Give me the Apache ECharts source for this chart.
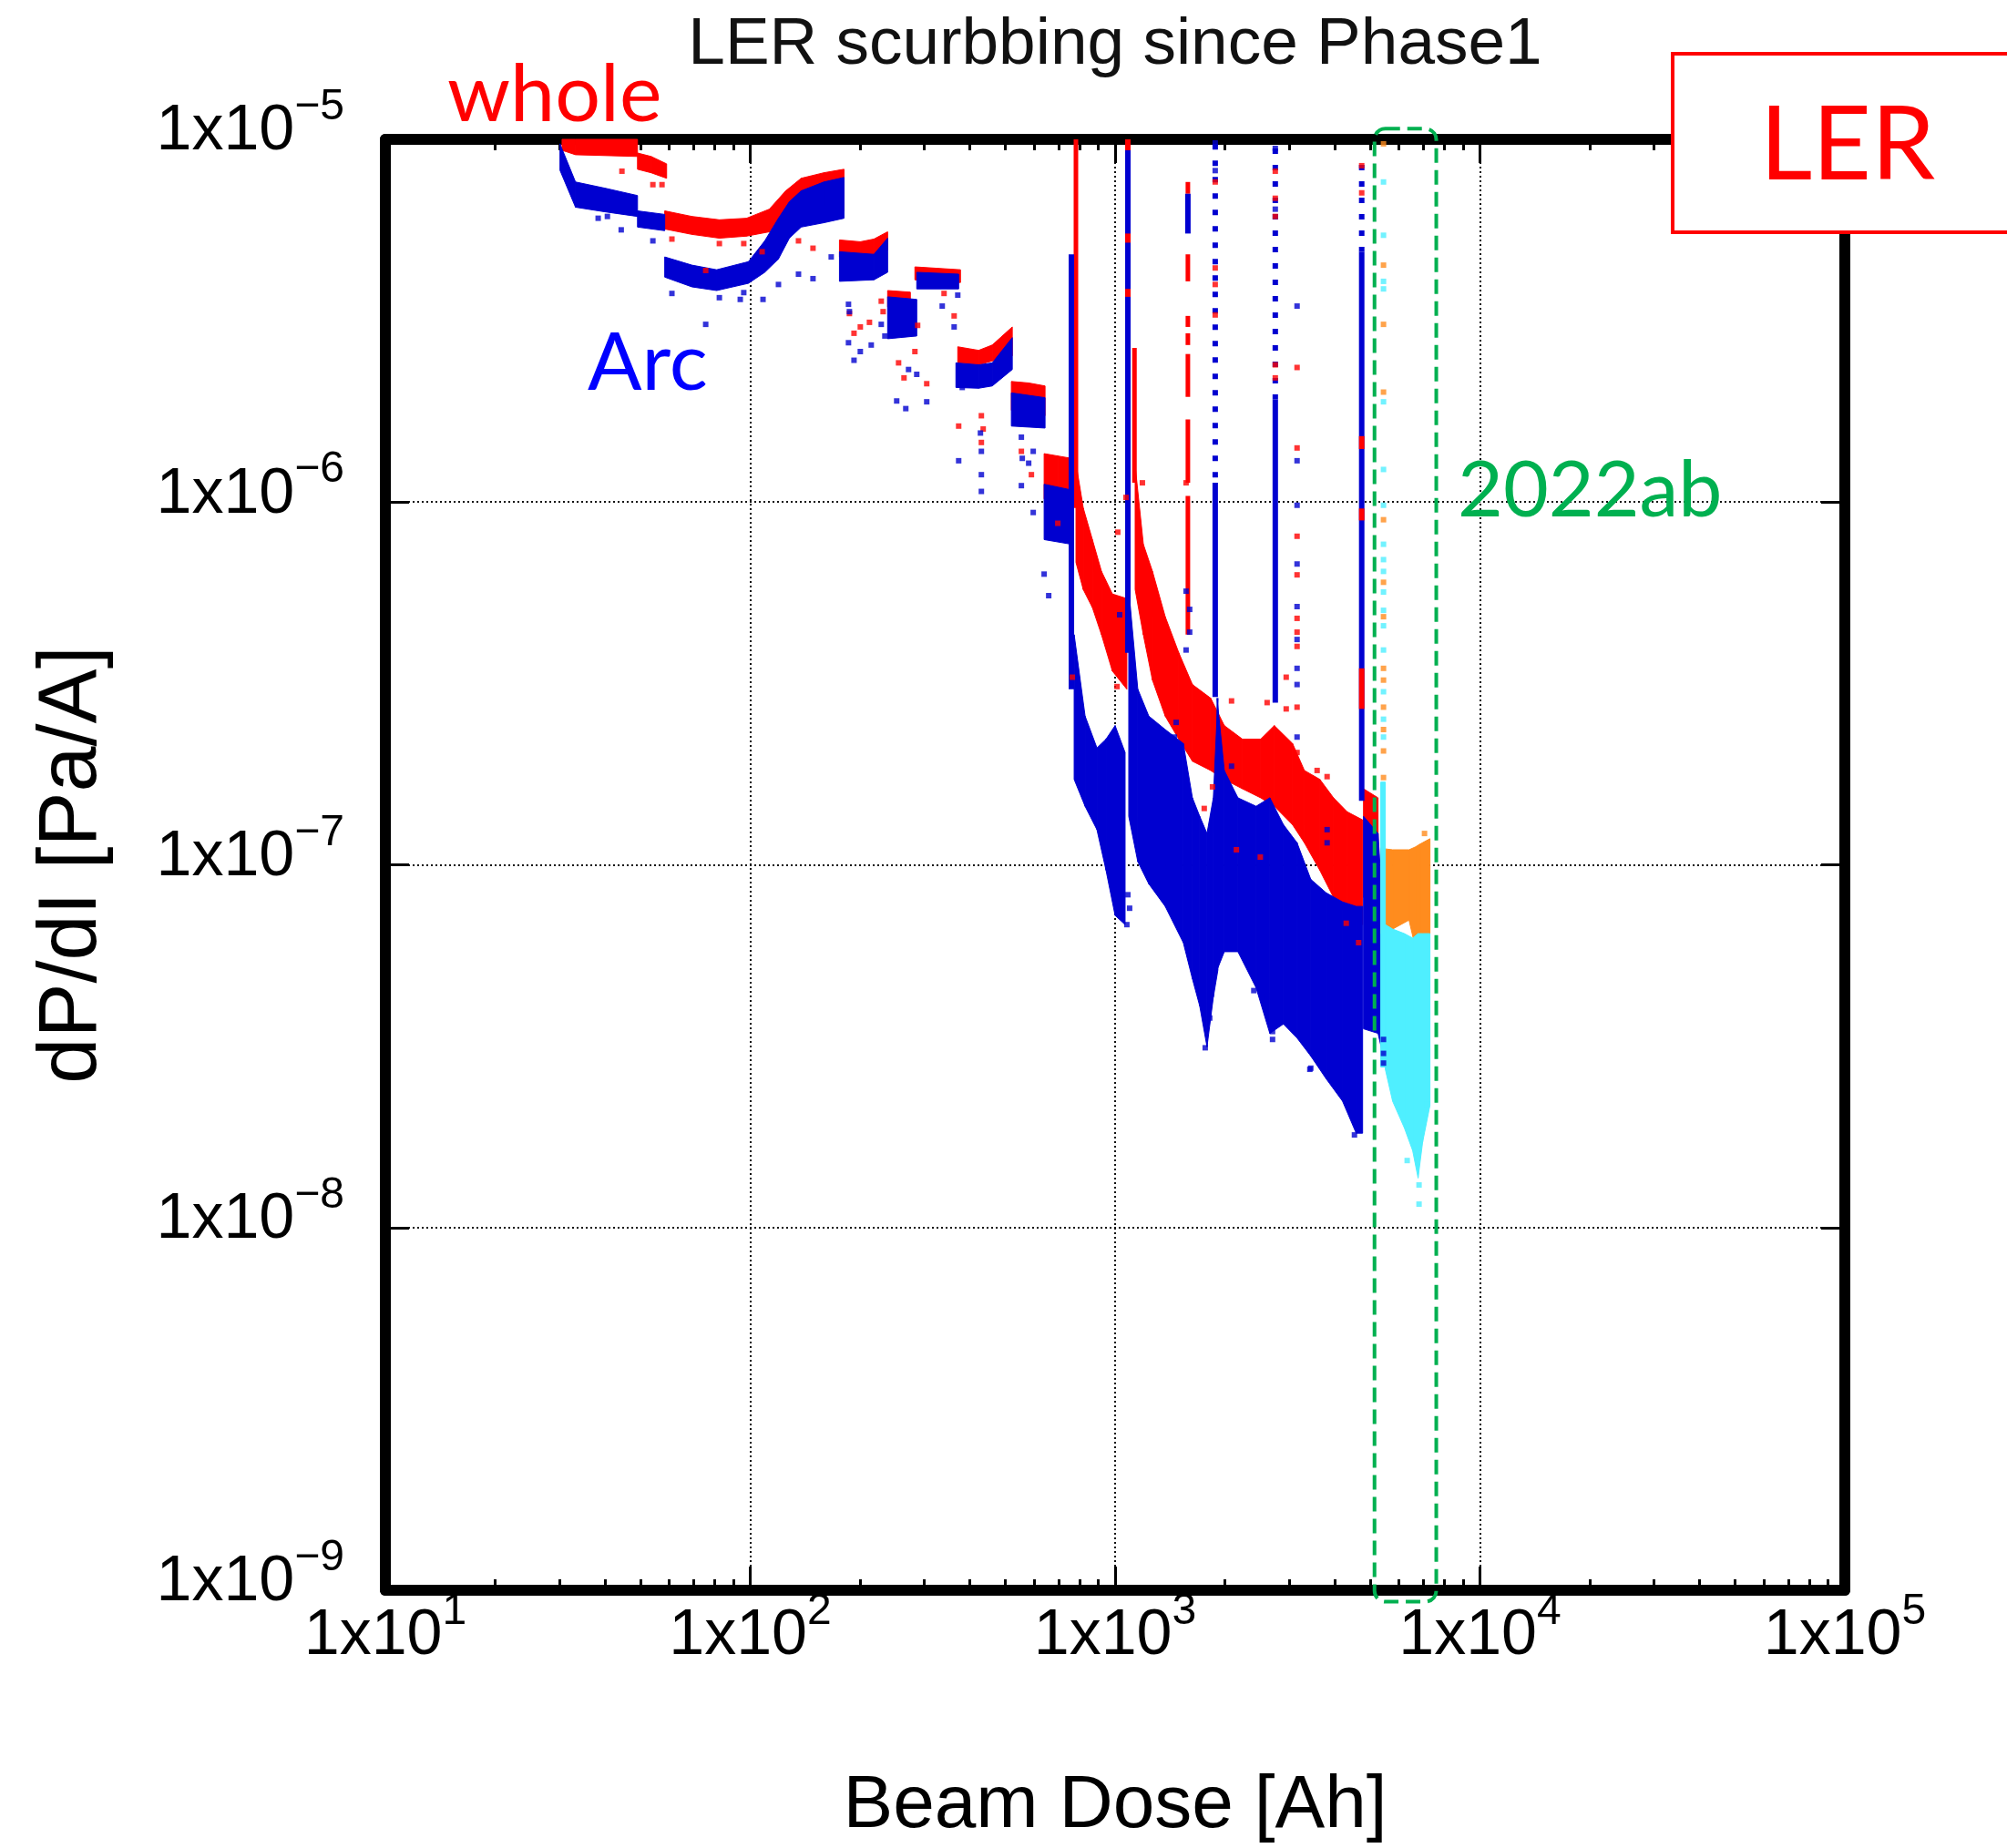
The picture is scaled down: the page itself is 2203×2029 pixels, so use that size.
<!DOCTYPE html>
<html>
<head>
<meta charset="utf-8">
<script src="https://cdn.jsdelivr.net/npm/echarts@6/dist/echarts.min.js"></script>
<style>
  html, body { margin: 0; padding: 0; background: #fff; }
  #chart { width: 2203px; height: 2029px; }
</style>
</head>
<body>
<div id="chart"></div>
<script>
// 点群の輪郭: 区間ごとに [dose, dP/dI 下端, dP/dI 上端] を並べる
const wholeSegments = [
  [[30.5, 9.33e-6, 1.0e-5], [33.2, 9.07e-6, 1.0e-5], [49.1, 8.97e-6, 1.0e-5]],
  [[49.1, 8.27e-6, 9.17e-6], [53.5, 8.09e-6, 8.97e-6], [59.0, 7.81e-6, 8.56e-6]],
  [[58.3, 5.66e-6, 6.35e-6], [69.2, 5.47e-6, 6.13e-6], [82.3, 5.34e-6, 6.00e-6], [97.7, 5.41e-6, 6.06e-6],
   [112.8, 5.56e-6, 6.42e-6], [125.1, 6.00e-6, 7.21e-6], [137.9, 6.50e-6, 7.81e-6], [159.2, 6.57e-6, 8.09e-6],
   [180.7, 6.35e-6, 8.27e-6]],
  [[175.6, 4.74e-6, 5.28e-6], [200.3, 4.71e-6, 5.22e-6], [218.3, 4.76e-6, 5.31e-6], [238.0, 4.96e-6, 5.56e-6]],
  [[238.0, 3.45e-6, 3.83e-6], [274.7, 3.41e-6, 3.79e-6]],
  [[282.7, 4.10e-6, 4.45e-6], [376.9, 4.03e-6, 4.37e-6]],
  [[370.5, 2.42e-6, 2.68e-6], [422.7, 2.39e-6, 2.62e-6], [460.7, 2.45e-6, 2.71e-6], [522.6, 2.53e-6, 3.04e-6]],
  [[519.6, 1.79e-6, 2.15e-6], [579.6, 1.76e-6, 2.13e-6], [642.7, 1.73e-6, 2.09e-6]],
  [[639.0, 1.02e-6, 1.36e-6], [696.5, 1.01e-6, 1.34e-6], [759.1, 9.63e-7, 1.32e-6]],
  [[781.2, 6.82e-7, 1.28e-6], [818.0, 5.74e-7, 9.63e-7], [866.5, 5.12e-7, 7.88e-7], [917.7, 4.31e-7, 6.44e-7],
   [983.0, 3.42e-7, 5.58e-7], [1077, 3.05e-7, 5.42e-7]],
  [[1135, 5.74e-7, 1.26e-6], [1195, 4.31e-7, 7.65e-7], [1266, 3.23e-7, 6.44e-7], [1372, 2.57e-7, 4.83e-7],
   [1495, 2.22e-7, 3.84e-7], [1629, 1.93e-7, 3.14e-7], [1828, 1.82e-7, 2.88e-7], [1992, 1.72e-7, 2.42e-7],
   [2234, 1.62e-7, 2.22e-7], [2506, 1.53e-7, 2.22e-7], [2732, 1.45e-7, 2.42e-7], [3064, 1.29e-7, 2.16e-7],
   [3302, 1.15e-7, 1.82e-7], [3640, 9.66e-8, 1.72e-7], [3968, 8.13e-8, 1.53e-7], [4325, 7.25e-8, 1.40e-7],
   [4768, 6.84e-8, 1.33e-7]],
  [[4796, 8.13e-8, 1.62e-7], [5256, 7.90e-8, 1.53e-7]],
]
const arcSegments = [
  [[30.1, 8.22e-6, 9.72e-6], [33.2, 6.50e-6, 7.63e-6], [40.1, 6.31e-6, 7.33e-6], [49.1, 6.13e-6, 7.00e-6]],
  [[49.1, 5.73e-6, 6.35e-6], [58.3, 5.60e-6, 6.21e-6]],
  [[58.3, 4.17e-6, 4.74e-6], [69.2, 3.92e-6, 4.50e-6], [80.9, 3.83e-6, 4.37e-6], [98.9, 4.01e-6, 4.60e-6],
   [109.6, 4.30e-6, 5.25e-6], [119.5, 4.68e-6, 6.06e-6], [128.0, 5.34e-6, 6.73e-6], [137.9, 5.73e-6, 7.21e-6],
   [159.2, 5.89e-6, 7.63e-6], [180.7, 6.06e-6, 7.85e-6]],
  [[175.6, 4.06e-6, 4.90e-6], [218.3, 4.10e-6, 4.82e-6], [238.0, 4.30e-6, 5.34e-6]],
  [[238.0, 2.82e-6, 3.68e-6], [286.0, 2.87e-6, 3.62e-6]],
  [[286.0, 3.87e-6, 4.30e-6], [372.6, 3.87e-6, 4.25e-6]],
  [[366.2, 2.07e-6, 2.42e-6], [422.7, 2.06e-6, 2.39e-6], [460.7, 2.09e-6, 2.42e-6], [522.6, 2.32e-6, 2.84e-6]],
  [[519.6, 1.62e-6, 2.00e-6], [642.7, 1.60e-6, 1.94e-6]],
  [[639.0, 7.88e-7, 1.12e-6], [759.1, 7.65e-7, 1.08e-6]],
  [[772.3, 1.72e-7, 4.31e-7], [827.5, 1.45e-7, 2.57e-7], [891.7, 1.25e-7, 2.10e-7], [944.3, 9.66e-8, 2.22e-7],
   [1000, 7.25e-8, 2.42e-7], [1065, 6.84e-8, 2.04e-7]],
  [[1090, 1.36e-7, 5.74e-7], [1154, 1.02e-7, 3.05e-7], [1237, 8.86e-8, 2.57e-7], [1372, 7.68e-8, 2.36e-7],
   [1538, 6.10e-8, 2.16e-7], [1629, 4.85e-8, 1.53e-7], [1706, 4.08e-8, 1.36e-7], [1786, 3.15e-8, 1.22e-7],
   [1859, 4.32e-8, 1.53e-7], [1903, 5.13e-8, 2.88e-7], [1992, 5.76e-8, 1.82e-7], [2171, 5.76e-8, 1.53e-7],
   [2435, 4.58e-8, 1.45e-7], [2655, 3.43e-8, 1.53e-7], [2893, 3.64e-8, 1.29e-7], [3153, 3.33e-8, 1.15e-7],
   [3438, 2.97e-8, 9.12e-8], [3789, 2.57e-8, 8.37e-8], [4201, 2.23e-8, 7.90e-8], [4579, 1.82e-8, 7.68e-8],
   [4768, 1.82e-8, 7.68e-8]],
  [[4796, 3.53e-8, 1.36e-7], [5256, 3.43e-8, 1.22e-7], [5503, 2.81e-8, 5.76e-8]],
]
// 2022ab
const whole2022Segments = [
  [[5347, 6.46e-8, 1.11e-7], [5763, 6.65e-8, 1.10e-7], [6390, 7.04e-8, 1.10e-7], [6651, 5.93e-8, 1.12e-7],
   [6847, 6.28e-8, 1.14e-7], [7293, 6.46e-8, 1.18e-7]],
]
const arc2022Segments = [
  [[5347, 2.77e-8, 1.69e-7], [5503, 2.77e-8, 1.69e-7]],
  [[5503, 2.73e-8, 6.84e-8], [5763, 2.23e-8, 6.65e-8], [6209, 1.88e-8, 6.46e-8], [6539, 1.63e-8, 6.28e-8],
   [6767, 1.37e-8, 6.46e-8], [6964, 1.72e-8, 6.46e-8], [7293, 2.17e-8, 6.46e-8]],
]

// 縦に伸びるスパイク [dose, low, high]
const wholeSpikes = [
  [781, 9.63e-7, 1.0e-5], [1130, 1.13e-6, 2.66e-6],
  [1583, 7.08e-6, 7.63e-6], [1583, 4.06e-6, 4.82e-6], [1583, 3.04e-6, 3.26e-6], [1583, 2.71e-6, 2.92e-6],
  [1583, 1.95e-6, 2.56e-6], [1583, 1.13e-6, 1.69e-6], [1583, 4.31e-7, 1.04e-6],
]
const arcSpikes = [
  [759, 3.05e-7, 4.82e-6], [1084, 3.84e-7, 9.33e-6], [1583, 5.50e-6, 7.08e-6],
  [1881, 2.90e-7, 1.13e-6], [2748, 2.80e-7, 1.92e-6], [4741, 1.50e-7, 4.90e-6],
]
const arcDottedSpikes = [
  [1881, 1.13e-6, 9.7e-6], [2748, 1.92e-6, 9.44e-6], [4741, 4.90e-6, 8.5e-6],
]
const wholeSpikeBits = [
  [1084, 9.33e-6, 1.0e-5], [1084, 5.19e-6, 5.50e-6], [1084, 3.68e-6, 3.87e-6], [4741, 2.69e-7, 3.48e-7],
  [4741, 1.40e-6, 1.52e-6], [4741, 8.9e-7, 9.6e-7],
]

// 孤立点 [dose, dP/dI]
const wholeDots = [
  [44.5, 8.17e-6], [54.1, 7.50e-6], [57.3, 7.50e-6], [61.0, 5.31e-6], [82.3, 5.16e-6], [96.0, 5.16e-6],
  [107.8, 4.90e-6], [75.5, 4.35e-6], [135.6, 5.25e-6], [148.6, 5.01e-6], [187.0, 3.31e-6], [192.5, 2.92e-6],
  [200.3, 3.04e-6], [212.2, 3.13e-6], [228.6, 3.58e-6], [231.3, 3.35e-6], [255.0, 2.42e-6], [263.9, 2.20e-6],
  [282.7, 2.60e-6], [287.6, 3.07e-6], [304.6, 2.12e-6], [339.8, 3.76e-6], [362.1, 3.26e-6], [372.6, 1.62e-6],
  [430.0, 1.73e-6], [435.0, 1.59e-6], [430.0, 1.46e-6], [553.5, 1.38e-6], [589.7, 1.19e-6], [696.5, 8.74e-7],
  [1017, 8.26e-7], [1071, 1.03e-6], [1188, 1.13e-6], [1565, 1.13e-6], [2944, 3.29e-7], [2944, 2.69e-7],
  [763.5, 3.29e-7], [1012, 3.42e-7], [1012, 3.10e-7], [1755, 1.43e-7], [1849, 1.64e-7], [3578, 1.82e-7],
  [3811, 1.75e-7], [2085, 2.83e-7], [2610, 2.80e-7], [2150, 1.10e-7], [2500, 1.05e-7], [4300, 6.9e-8],
  [4650, 6.1e-8],
  [3153, 2.35e-6], [3153, 1.41e-6], [3153, 8.05e-7], [3153, 6.30e-7], [3153, 4.78e-7], [3153, 4.38e-7],
  [3153, 4.00e-7], [3153, 2.72e-7], [3153, 2.04e-7],
  [1881, 7.63e-6], [1881, 4.42e-6], [1881, 3.98e-6], [1881, 3.28e-6],
  [2748, 8.17e-6], [2748, 6.88e-6], [2748, 6.13e-6], [2748, 2.39e-6], [2748, 2.20e-6],
  [4741, 8.46e-6], [4741, 7.12e-6],
]
const arcDots = [
  [38.3, 6.06e-6], [40.6, 6.13e-6], [44.3, 5.63e-6], [54.1, 5.25e-6], [61.0, 3.76e-6], [75.5, 3.09e-6],
  [82.3, 3.66e-6], [93.9, 3.62e-6], [96.0, 3.78e-6], [108.4, 3.62e-6], [119.5, 3.98e-6], [135.6, 4.25e-6],
  [148.6, 4.13e-6], [166.7, 4.74e-6], [185.9, 3.51e-6], [187.0, 3.35e-6], [185.9, 2.75e-6], [192.5, 2.46e-6],
  [200.3, 2.60e-6], [214.6, 2.71e-6], [228.6, 3.09e-6], [233.9, 2.87e-6], [252.0, 1.90e-6], [266.9, 1.81e-6],
  [271.6, 2.32e-6], [286.0, 2.25e-6], [304.6, 1.89e-6], [335.9, 3.47e-6], [362.1, 3.04e-6], [370.5, 3.72e-6],
  [372.6, 1.30e-6], [381.1, 2.07e-6], [427.5, 1.55e-6], [430.0, 1.38e-6], [430.0, 1.19e-6], [430.0, 1.07e-6],
  [553.5, 1.51e-6], [596.5, 1.38e-6], [556.7, 1.32e-6], [579.6, 1.28e-6], [553.5, 1.11e-6], [596.5, 9.36e-7],
  [657.7, 5.52e-7], [639.0, 6.33e-7], [1029, 4.89e-7], [1565, 5.68e-7], [1601, 5.06e-7], [1565, 3.91e-7],
  [1601, 4.38e-7], [2085, 1.87e-7], [3811, 1.25e-7], [3811, 1.15e-7], [1453, 2.25e-7], [1470, 2.47e-7],
  [1084, 8.27e-8], [1096, 7.59e-8], [1077, 6.84e-8], [1766, 3.13e-8], [1817, 3.78e-8], [2701, 3.47e-8],
  [2701, 3.30e-8], [3418, 2.73e-8], [4477, 2.05e-8], [4529, 1.80e-8], [4607, 1.90e-8],
  [2400, 4.50e-8], [2600, 4.35e-8], [3438, 2.75e-8],
  [5440, 3.30e-8], [5440, 3.02e-8], [5440, 2.84e-8],
  [3153, 3.47e-6], [3153, 1.30e-6], [3153, 9.80e-7], [3153, 6.75e-7], [3153, 5.15e-7], [3153, 4.18e-7],
  [3153, 3.48e-7], [3153, 3.14e-7], [3153, 2.25e-7],
  [1881, 9.77e-6], [1881, 8.2e-6], [2748, 9.44e-6], [2748, 6.42e-6],
]
const whole2022Dots = [
  [5440, 9.72e-6], [5440, 4.50e-6], [5440, 3.09e-6], [5440, 2.01e-6], [5440, 8.94e-7], [5440, 6.01e-7],
  [5440, 4.83e-7], [5440, 3.48e-7], [5440, 3.23e-7], [5440, 2.72e-7], [5440, 2.36e-7], [5440, 2.06e-7],
  [5440, 1.74e-7], [7047, 1.22e-7],
]
const arc2022Dots = [
  [5440, 7.63e-6], [5440, 5.44e-6], [5440, 4.06e-6], [5440, 3.87e-6], [5440, 1.89e-6], [5440, 1.23e-6],
  [5440, 9.80e-7], [5440, 7.65e-7], [5440, 6.94e-7], [5440, 6.44e-7], [5440, 5.65e-7], [5440, 5.03e-7],
  [5440, 4.56e-7], [5440, 3.91e-7], [5440, 3.00e-7], [5440, 2.52e-7], [5440, 2.25e-7],
  [6808, 1.31e-8], [6808, 1.16e-8], [7169, 2.19e-8], [6317, 1.53e-8],
]

// 2022ab の囲み [dose from, dose to, low, high]
const box2022 = [[5140, 7590, 9.3e-10, 1.07e-5]]
// 対数軸の補助目盛
const xMinorTicks = [
  20, 30, 40, 50, 60, 70, 80, 90, 200, 300, 400, 500, 600, 700, 800, 900,
  2000, 3000, 4000, 5000, 6000, 7000, 8000, 9000, 20000, 30000, 40000, 50000, 60000, 70000, 80000, 90000,
]

const FONT = '"Liberation Sans", Arial, sans-serif'
const NOTE_FONT = 'Lato, "Open Sans", sans-serif'
const RED = '#FF0000'
const BLUE = '#0000D0'
const ORANGE = '#FF8C1E'
const CYAN = '#4FEFFF'

function expLabel(v) {
  const e = Math.round(Math.log10(v))
  return '{b|1x10}{s|' + String(e).replace('-', '\u2212') + '}'
}
const labelRich = {
  b: { fontFamily: FONT, fontSize: 70, lineHeight: 86, color: '#000', verticalAlign: 'bottom' },
  s: { fontFamily: FONT, fontSize: 48, lineHeight: 48, color: '#000', verticalAlign: 'top' },
}

// 隣り合う輪郭点を台形にする
function toQuads(segments) {
  const out = []
  segments.forEach((seg) => {
    for (let i = 0; i < seg.length - 1; i++)
      out.push([seg[i][0], seg[i][1], seg[i][2], seg[i + 1][0], seg[i + 1][1], seg[i + 1][2]])
  })
  return out
}
function quadRender(color) {
  return function (params, api) {
    const p = [
      api.coord([api.value(0), api.value(2)]),
      api.coord([api.value(3), api.value(5)]),
      api.coord([api.value(3), api.value(4)]),
      api.coord([api.value(0), api.value(1)]),
    ]
    if (p[1][0] - p[0][0] < 5) {
      p[1][0] = p[0][0] + 5
      p[2][0] = p[0][0] + 5
    }
    return { type: 'polygon', shape: { points: p }, style: { fill: color, stroke: color, lineWidth: 1 } }
  }
}
function cloud(name, segments, color) {
  return {
    name, type: 'custom', data: toQuads(segments), encode: { x: [0, 3], y: [1, 2, 4, 5] },
    renderItem: quadRender(color), silent: true,
  }
}
function spikeRender(color, width, dash) {
  return function (params, api) {
    const a = api.coord([api.value(0), api.value(2)])
    const b = api.coord([api.value(0), api.value(1)])
    return {
      type: 'line',
      shape: { x1: a[0], y1: a[1], x2: b[0], y2: b[1] },
      style: { stroke: color, lineWidth: width, lineDash: dash || null },
    }
  }
}
function spikes(name, data, color, width, dash) {
  return { name, type: 'custom', data, encode: { x: 0, y: [1, 2] }, renderItem: spikeRender(color, width, dash), silent: true }
}
function dots(name, data, color) {
  return { name, type: 'scatter', data, symbol: 'rect', symbolSize: 6, itemStyle: { color }, silent: true }
}

const frameLine = { show: true, onZero: false, lineStyle: { color: '#000', width: 12 } }
const majorTick = { show: true, inside: true, length: 26, lineStyle: { color: '#000', width: 3 } }
const minorTick = { show: true, inside: true, length: 12, customValues: xMinorTicks, lineStyle: { color: '#000', width: 3 } }
const gridLine = { show: true, lineStyle: { color: '#111', width: 2, type: [2, 3] } }

const chart = echarts.init(document.getElementById('chart'))
chart.setOption({
  animation: false,
  backgroundColor: '#fff',
  title: {
    text: 'LER scurbbing since Phase1',
    left: 1219,
    top: 8,
    textAlign: 'center',
    textStyle: { fontFamily: FONT, fontSize: 73, fontWeight: 'normal', color: '#111' },
  },
  grid: { left: 423, top: 153, width: 1602, height: 1602 },
  xAxis: [
    {
      type: 'log', logBase: 10, min: 10, max: 100000, position: 'bottom',
      axisLine: frameLine, axisTick: majorTick, splitLine: gridLine,
      axisLabel: { margin: 0, formatter: expLabel, rich: labelRich, showMinLabel: true, showMaxLabel: true },
      name: 'Beam Dose [Ah]', nameLocation: 'middle', nameGap: 196,
      nameTextStyle: { fontFamily: FONT, fontSize: 82, color: '#000' },
    },
    {
      type: 'log', logBase: 10, min: 10, max: 100000, position: 'top',
      axisLine: frameLine, axisTick: majorTick, axisLabel: { show: false }, splitLine: { show: false },
    },
    {
      type: 'log', logBase: 10, min: 10, max: 100000, position: 'bottom',
      axisLine: { show: false }, axisTick: minorTick, axisLabel: { show: false }, splitLine: { show: false },
    },
    {
      type: 'log', logBase: 10, min: 10, max: 100000, position: 'top',
      axisLine: { show: false }, axisTick: minorTick, axisLabel: { show: false }, splitLine: { show: false },
    },
  ],
  yAxis: [
    {
      type: 'log', logBase: 10, min: 1e-9, max: 1e-5, position: 'left',
      axisLine: frameLine, axisTick: majorTick, splitLine: gridLine,
      axisLabel: { margin: 45, formatter: expLabel, rich: labelRich, padding: [0, 0, 32, 0], showMinLabel: true, showMaxLabel: true },
      name: 'dP/dI [Pa/A]', nameLocation: 'middle', nameGap: 298, nameRotate: 90,
      nameTextStyle: { fontFamily: FONT, fontSize: 90, color: '#000' },
    },
    {
      type: 'log', logBase: 10, min: 1e-9, max: 1e-5, position: 'right',
      axisLine: frameLine, axisTick: majorTick, axisLabel: { show: false }, splitLine: { show: false },
    },
  ],
  series: [
    cloud('whole', wholeSegments, RED),
    cloud('Arc', arcSegments, BLUE),
    cloud('2022ab whole', whole2022Segments, ORANGE),
    cloud('2022ab Arc', arc2022Segments, CYAN),
    spikes('whole spikes', wholeSpikes, RED, 5),
    spikes('Arc spikes', arcSpikes, BLUE, 6),
    spikes('Arc dotted spikes', arcDottedSpikes, BLUE, 6, [6, 12]),
    spikes('whole spike bits', wholeSpikeBits, RED, 6),
    dots('whole dots', wholeDots, RED),
    dots('Arc dots', arcDots, BLUE),
    dots('2022ab whole dots', whole2022Dots, ORANGE),
    dots('2022ab Arc dots', arc2022Dots, CYAN),
    {
      name: '2022ab box', type: 'custom', data: box2022, encode: { x: [0, 1], y: [2, 3] }, clip: false, silent: true, z: 10,
      renderItem: function (params, api) {
        const a = api.coord([api.value(0), api.value(3)])
        const b = api.coord([api.value(1), api.value(2)])
        return {
          type: 'rect',
          shape: { x: a[0], y: a[1], width: b[0] - a[0], height: b[1] - a[1], r: 12 },
          style: { fill: 'none', stroke: '#00B050', lineWidth: 4, lineDash: [16, 8] },
        }
      },
    },
  ],
  graphic: [
    { type: 'text', x: 491, y: 105, z: 100, style: { text: 'whole', font: '88px ' + NOTE_FONT, fill: RED, textAlign: 'left', textVerticalAlign: 'middle', align: 'left', verticalAlign: 'middle' } },
    { type: 'text', x: 645, y: 400, z: 100, style: { text: 'Arc', font: '88px ' + NOTE_FONT, fill: '#0000FF', textAlign: 'left', textVerticalAlign: 'middle', align: 'left', verticalAlign: 'middle' } },
    { type: 'text', x: 1600, y: 539, z: 100, style: { text: '2022ab', font: '86px ' + NOTE_FONT, fill: '#00B050', textAlign: 'left', textVerticalAlign: 'middle', align: 'left', verticalAlign: 'middle' } },
    { type: 'rect', z: 100, shape: { x: 1836, y: 59, width: 420, height: 196 }, style: { fill: '#fff', stroke: RED, lineWidth: 4 } },
    { type: 'text', x: 2028, y: 161, z: 101, style: { text: 'LER', font: '112px ' + NOTE_FONT, fill: RED, textAlign: 'center', textVerticalAlign: 'middle', align: 'center', verticalAlign: 'middle' } },
  ],
})
</script>
</body>
</html>
